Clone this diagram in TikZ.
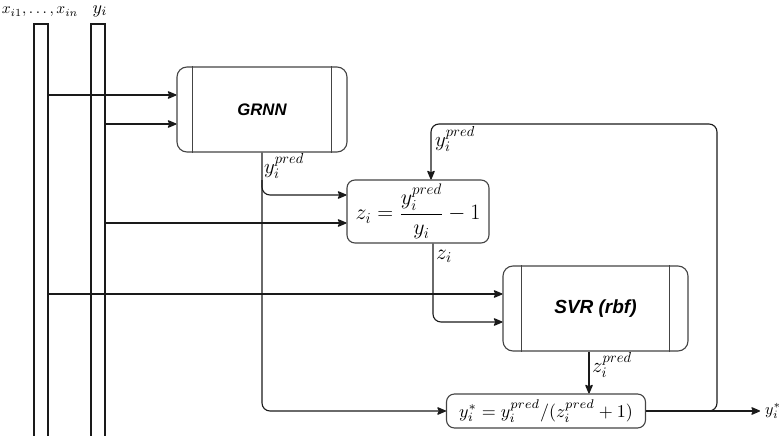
\documentclass[tikz,border=0pt]{standalone}
\usepackage{amsmath}
\usepackage{graphicx}
\usepackage{fontspec}
\setsansfont{Liberation Sans}
\usetikzlibrary{arrows.meta}
\definecolor{edgegray}{HTML}{444444}
\definecolor{linek}{HTML}{1A1A1A}

\begin{document}
\begin{tikzpicture}[x=1pt,y=-1pt,
  bar/.style={draw=linek, line width=1.1pt, minimum width=14pt, inner sep=0pt},
  procbox/.style={draw=edgegray, line width=1.1pt, rounded corners=10pt, inner sep=0pt,
    font=\sffamily\bfseries\itshape},
  mathbox/.style={draw=edgegray, line width=1.1pt, rounded corners=8pt, inner sep=0pt},
  flow/.style={draw=linek, line width=1.1pt, rounded corners=8pt,
    -{Stealth[length=10pt,width=8.5pt,inset=2pt,round]}},
  lbl/.style={inner sep=0pt, font=\fontsize{14.4}{16}\selectfont},
  tag/.style={inner sep=0pt},
  sidebar/.style={draw=edgegray, line width=1.1pt}]

\clip (0,0) rectangle (782,436);
\useasboundingbox (0,0) rectangle (782,436);

% input columns
\node[bar, minimum height=430pt] (xbar) at (41,239) {};
\node[bar, minimum height=430pt] (ybar) at (98,239) {};
\node[tag] (xlab) at (40,12) {\scalebox{1.55}{$x_{i1},\ldots,x_{in}$}};
\node[tag] (ylab) at (100,11) {\scalebox{1.8}{$y_i$}};

% processing blocks
\node[procbox, minimum width=170pt, minimum height=85pt,
  font=\sffamily\bfseries\itshape\fontsize{16.7}{19}\selectfont] (grnn) at (262,109.5) {GRNN};
\draw[sidebar] ([xshift=16pt]grnn.north west) -- ([xshift=16pt]grnn.south west);
\draw[sidebar] ([xshift=-16pt]grnn.north east) -- ([xshift=-16pt]grnn.south east);

\node[mathbox, minimum width=142pt, minimum height=63pt, font=\fontsize{17.28}{20}\selectfont]
  (zbox) at (418,211.5) {\scalebox{1.27}{$z_i = \dfrac{y_i^{pred}}{y_i} - 1$}};

\node[procbox, minimum width=185pt, minimum height=85pt,
  font=\sffamily\bfseries\itshape\fontsize{19}{22}\selectfont] (svr) at (595.5,308.5) {SVR (rbf)};
\draw[sidebar] ([xshift=19pt]svr.north west) -- ([xshift=19pt]svr.south west);
\draw[sidebar] ([xshift=-19pt]svr.north east) -- ([xshift=-19pt]svr.south east);

\node[mathbox, minimum width=199pt, minimum height=34pt]
  (ystar) at (546,411) {\scalebox{1.8}{$y_i^{*} = y_i^{pred}/(z_i^{pred}+1)$}};

\coordinate (out) at (760,411);

% inputs to GRNN
\draw[flow] (xbar.east |- 0,95) -- (grnn.west |- 0,95);
\draw[flow] (ybar.east |- 0,124) -- (grnn.west |- 0,124);

% GRNN prediction to the z block and the final block
\draw[flow] (grnn.south) -- (262,411) -- (ystar.west);
\draw[flow] (262,180) -- (262,195) -- (zbox.west |- 0,195);
\node[lbl, anchor=west] (gp) at (264,166) {\scalebox{1.45}{$y_i^{pred}$}};

% y_i to the z block
\draw[flow] (ybar.east |- 0,223) -- (zbox.west |- 0,223);

% feedback of the corrected prediction
\draw[flow] (700,411) -- (717,411) -- (717,124) -- (431,124) -- (zbox.north -| 431,0);
\node[lbl, anchor=west] (fp) at (435,139) {\scalebox{1.45}{$y_i^{pred}$}};

% z_i and x to SVR
\draw[flow] (zbox.south -| 433,0) -- (433,322) -- (svr.west |- 0,322);
\node[lbl, anchor=west] (zl) at (436,256) {\scalebox{1.5}{$z_i$}};
\draw[flow] (xbar.east |- 0,294) -- (svr.west |- 0,294);

% SVR output to the final block
\draw[flow] (svr.south -| 589,0) -- (ystar.north -| 589,0);
\node[lbl, anchor=west] (zp) at (592,365) {\scalebox{1.45}{$z_i^{pred}$}};

% output
\draw[flow] (ystar.east) -- (out);
\node[tag, anchor=west] (ol) at (765,411) {\scalebox{1.6}{$y_i^{*}$}};
\end{tikzpicture}
\end{document}
